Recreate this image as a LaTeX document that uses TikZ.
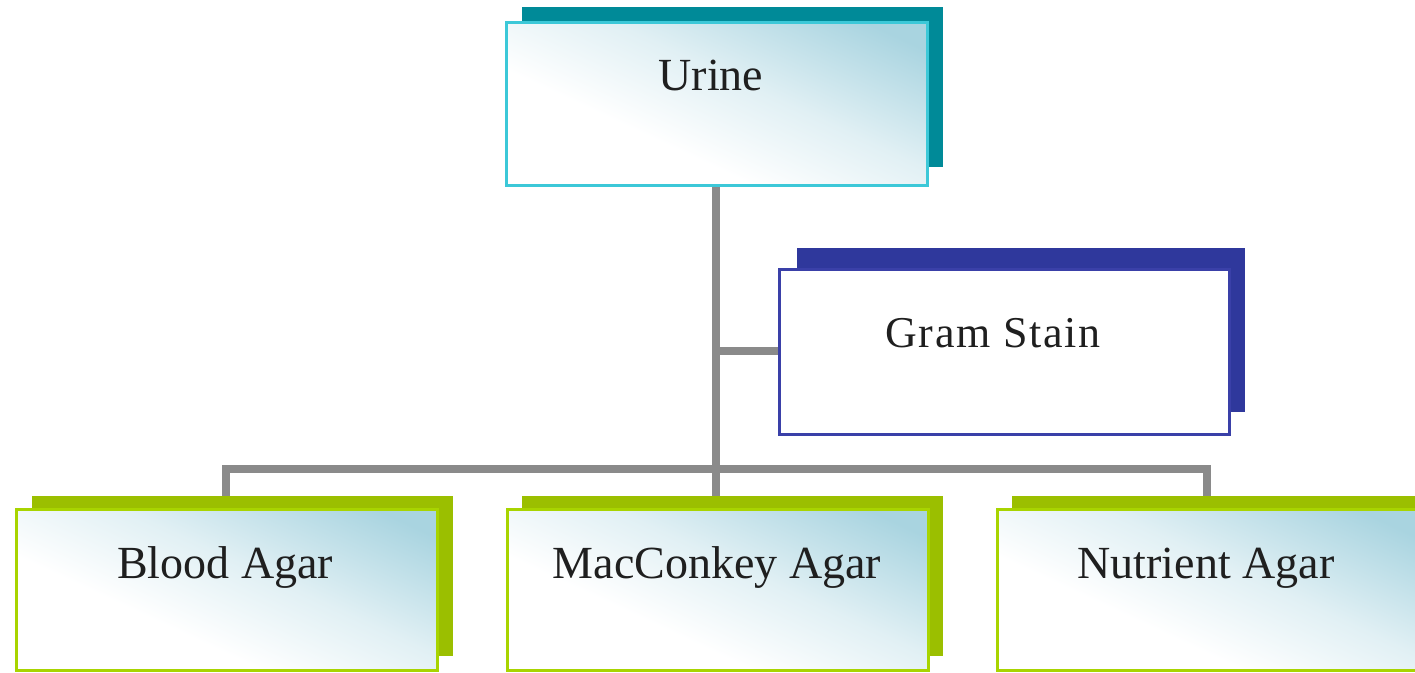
\documentclass[tikz,border=0pt]{standalone}
\usepackage{fontspec}
\setmainfont{Liberation Serif}
\newfontfamily\gramfont[LetterSpace=4]{Liberation Serif}
\definecolor{urineedge}{HTML}{3CC8D8}
\definecolor{urineshadow}{HTML}{008A98}
\definecolor{gramedge}{HTML}{3A40A8}
\definecolor{gramshadow}{HTML}{2F389C}
\definecolor{agaredge}{HTML}{A8D400}
\definecolor{agarshadow}{HTML}{9BBF00}
\definecolor{shadeblue}{HTML}{A9D4E0}
\definecolor{conncol}{HTML}{8A8A8A}
\pgfdeclareverticalshading{boxshade}{100bp}{color(0bp)=(white); color(25bp)=(white); color(38bp)=(white); color(56bp)=(shadeblue!35); color(78bp)=(shadeblue); color(100bp)=(shadeblue)}
\begin{document}
\begin{tikzpicture}[x=1pt,y=1pt,
  frontbox/.style={draw=#1, line width=2.5pt, rectangle, inner sep=0pt,
    minimum width=421pt, minimum height=161pt},
  gradbox/.style={shading=boxshade, shading angle=-25},
  shadowbox/.style={fill=#1, draw=none, rectangle, inner sep=0pt,
    minimum width=421pt, minimum height=160pt},
  conn/.style={draw=conncol, line width=8pt, line join=miter},
  lbl/.style={font=\fontsize{46}{50}\selectfont, anchor=base, text=black!88}
]
\useasboundingbox (0,0) rectangle (1415,-672);
\fill[white] (0,0) rectangle (1415,-672);

% shadows
\node[shadowbox=urineshadow, anchor=north west] (urineS) at (522,-7) {};
\node[shadowbox=gramshadow, anchor=north west, minimum width=448pt, minimum height=164pt] (gramS) at (797,-248) {};
\node[shadowbox=agarshadow, anchor=north west] (bloodS) at (32,-496) {};
\node[shadowbox=agarshadow, anchor=north west] (macS) at (522,-496) {};
\node[shadowbox=agarshadow, anchor=north west] (nutS) at (1012,-496) {};

% connectors (drawn first)
\coordinate (hub) at (716,-469);
\coordinate (urineBottom) at (716,-185);
\draw[conn] (urineBottom) -- (hub);
\coordinate (gramWest) at (778,-350.5);
\draw[conn] (urineBottom |- gramWest) -- (gramWest);
\coordinate (bloodTop) at (226,-496);
\coordinate (nutTop) at (1207,-496);
\coordinate (macTop) at (716,-496);
\draw[conn] (bloodTop) |- (hub) -| (nutTop);
\draw[conn] (hub) -- (macTop);

% redraw shadows over connector ends
\fill[agarshadow] (bloodS.north west) rectangle (bloodS.south east);
\fill[agarshadow] (macS.north west) rectangle (macS.south east);
\fill[agarshadow] (nutS.north west) rectangle (nutS.south east);

% front boxes
\node[frontbox=urineedge, gradbox, anchor=north west, minimum height=163pt] (urine) at (505,-21) {};
\node[frontbox=gramedge, fill=white, anchor=north west, minimum width=450pt, minimum height=165pt] (gram) at (778,-268) {};
\node[frontbox=agaredge, gradbox, anchor=north west] (blood) at (15,-508) {};
\node[frontbox=agaredge, gradbox, anchor=north west] (mac) at (506,-508) {};
\node[frontbox=agaredge, gradbox, anchor=north west] (nut) at (996,-508) {};

% labels
\node[lbl] (urineT) at (711,-90) {Urine};
\node[lbl, font=\gramfont\fontsize{44}{50}\selectfont] (gramT) at (993,-347) {Gram Stain};
\node[lbl] (bloodT) at (225,-578) {Blood Agar};
\node[lbl] (macT) at (717,-578) {MacConkey Agar};
\node[lbl] (nutT) at (1206,-578) {Nutrient Agar};
\end{tikzpicture}
\end{document}
